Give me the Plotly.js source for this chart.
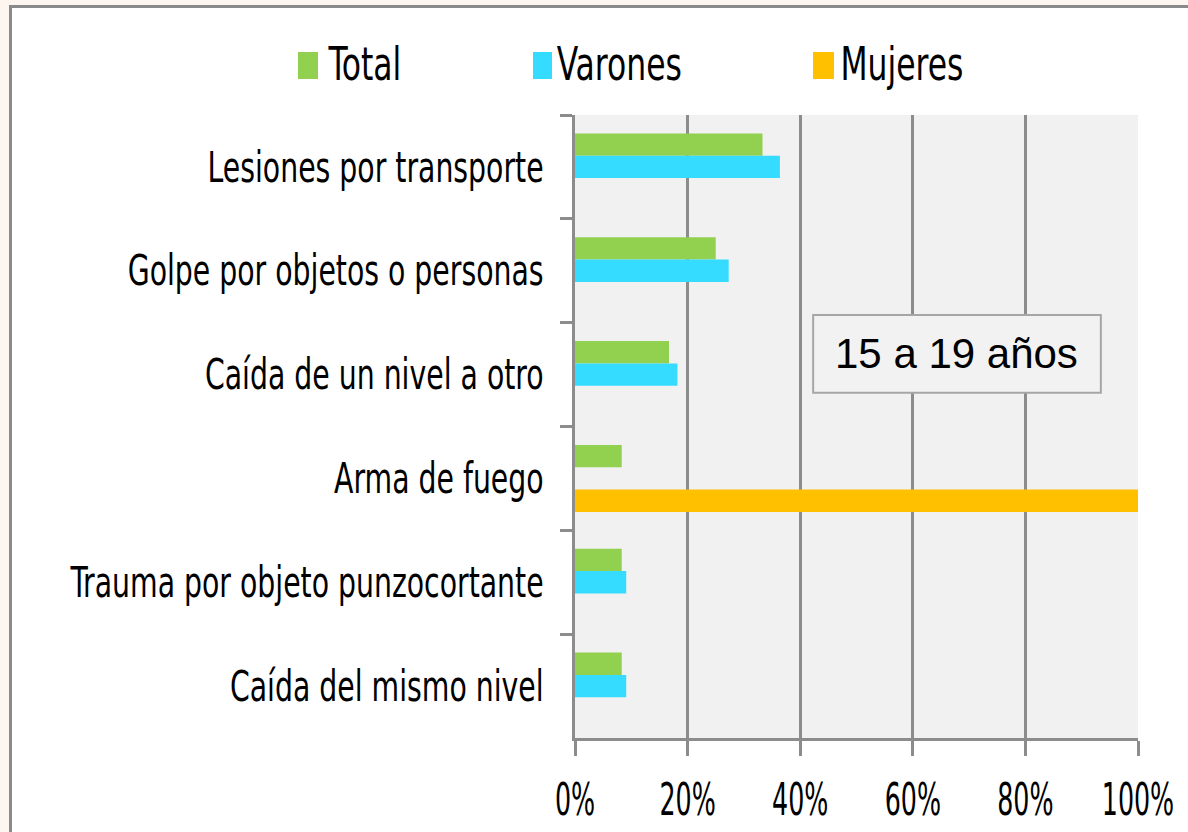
<!DOCTYPE html>
<html>
<head>
<meta charset="utf-8">
<script src="https://cdn.plot.ly/plotly-3.0.1.min.js"></script>
<style>
  html, body { margin: 0; padding: 0; background: #fdf6f0; width: 1188px; height: 832px; overflow: hidden; }
  #frame { position: absolute; left: 9px; top: 5px; width: 1200px; height: 840px; background: #ffffff;
           border-left: 3px solid #8a8a8a; border-top: 3px solid #8a8a8a; }
  #chart { position: absolute; left: 0; top: 0; width: 1188px; height: 832px; }
</style>
</head>
<body>
<div id="frame"></div>
<div id="chart"></div>
<script>
const categories = [
  "Lesiones por transporte",
  "Golpe por objetos o personas",
  "Caída de un nivel a otro",
  "Arma de fuego",
  "Trauma por objeto punzocortante",
  "Caída del mismo nivel"
];
const seriesNames   = ["Total", "Varones", "Mujeres"];
const totalValues   = [0.333, 0.25, 0.167, 0.083, 0.083, 0.083];
const varonesValues = [0.364, 0.273, 0.182, 0, 0.091, 0.091];
const mujeresValues = [0, 0, 0, 1.0, 0, 0];
const xTickValues = [0, 0.2, 0.4, 0.6, 0.8, 1.0];
const xTickLabels = ["0%", "20%", "40%", "60%", "80%", "100%"];
const panelLabel = "15 a 19 años";

const seriesColors = ["#92d050", "#36dcff", "#ffc000"];
const seriesValues = [totalValues, varonesValues, mujeresValues];
const cond = "DejaVu Sans Condensed, DejaVu Sans, sans-serif";

const traces = seriesNames.map((n, i) => ({
  type: "bar", orientation: "h", name: n, x: seriesValues[i], y: categories,
  marker: { color: seriesColors[i] }, showlegend: false
}));

// legend drawn as swatches + labels (positions in paper fractions of the plot area)
const legendSwatchX = [[-0.492, -0.4565], [-0.0746, -0.0409], [0.4227, 0.46]];
const legendLabelX = [-0.3739, 0.079, 0.58];
const shapes = [{
  type: "rect", xref: "paper", yref: "paper",
  x0: 0.423, x1: 0.934, y0: 0.554, y1: 0.679,
  fillcolor: "#f2f2f2", line: { color: "#a6a6a6", width: 2 }, layer: "above"
}];
const annotations = [{
  text: panelLabel, xref: "paper", yref: "paper",
  x: 0.6785, y: 0.6165, xanchor: "center", yanchor: "middle",
  showarrow: false,
  font: { family: "Liberation Sans, Arial, sans-serif", size: 42, color: "#000" }
}];
seriesNames.forEach((n, i) => {
  shapes.push({
    type: "rect", xref: "paper", yref: "paper",
    x0: legendSwatchX[i][0], x1: legendSwatchX[i][1], y0: 1.0578, y1: 1.1011,
    fillcolor: seriesColors[i], line: { width: 0 }
  });
  annotations.push({
    text: n, xref: "paper", yref: "paper", x: legendLabelX[i], y: 1.0819,
    xanchor: "center", yanchor: "middle", showarrow: false,
    font: { family: cond, size: 46, color: "#000" }
  });
});

const layout = {
  width: 1188, height: 832,
  paper_bgcolor: "rgba(0,0,0,0)",
  plot_bgcolor: "#f1f1f1",
  margin: { l: 575, r: 50, t: 115, b: 94, pad: 0 },
  barmode: "group",
  bargap: 0.355,
  bargroupgap: 0,
  showlegend: false,
  xaxis: {
    range: [0, 1],
    tickvals: xTickValues, ticktext: xTickLabels,
    showgrid: true, gridcolor: "#8c8c8c", gridwidth: 3,
    zeroline: false,
    showline: true, linecolor: "#8c8c8c", linewidth: 3,
    ticks: "outside", ticklen: 15, tickwidth: 3, tickcolor: "#8c8c8c",
    ticklabelstandoff: 6,
    ticklabeloverflow: "allow",
    tickfont: { family: cond, size: 44, color: "#000" },
    fixedrange: true
  },
  yaxis: {
    type: "category",
    categoryorder: "array", categoryarray: categories,
    autorange: "reversed",
    showgrid: false,
    showline: true, linecolor: "#8c8c8c", linewidth: 3,
    ticks: "outside", ticklen: 12, tickwidth: 3, tickcolor: "#8c8c8c",
    tickson: "boundaries",
    ticklabelstandoff: 20,
    ticklabeloverflow: "allow",
    tickfont: { family: cond, size: 42, color: "#000" },
    fixedrange: true
  },
  shapes: shapes,
  annotations: annotations
};

function squeeze(sel, s) {
  document.querySelectorAll(sel).forEach(t => {
    const x = parseFloat(t.getAttribute("x")) || 0;
    const tr = t.getAttribute("transform") || "";
    t.setAttribute("transform", tr + " translate(" + x + ",0) scale(" + s + ",1) translate(" + (-x) + ",0)");
  });
}

Plotly.newPlot("chart", traces, layout, { displayModeBar: false, staticPlot: true }).then(() => {
  squeeze("#chart .ytick text", 0.75);
  squeeze("#chart .xtick text", 0.64);
  document.querySelectorAll("#chart .annotation-text").forEach(t => {
    if (t.textContent !== panelLabel) {
      const x = parseFloat(t.getAttribute("x")) || 0;
      const tr = t.getAttribute("transform") || "";
      t.setAttribute("transform", tr + " translate(" + x + ",0) scale(0.76,1) translate(" + (-x) + ",0)");
    }
  });
});
</script>
</body>
</html>
